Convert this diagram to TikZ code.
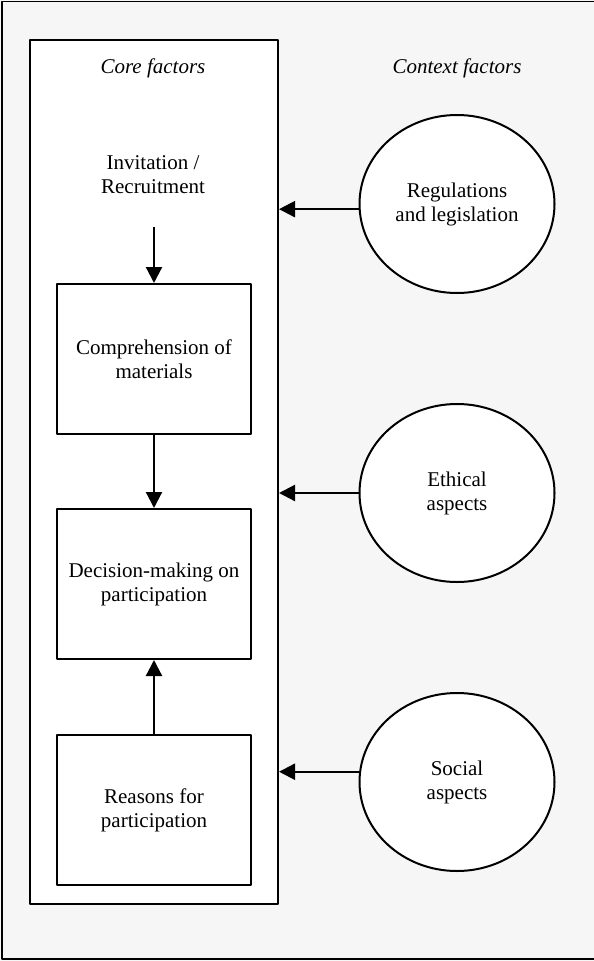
\documentclass[tikz,border=0pt]{standalone}
\usepackage{fontspec}
\setmainfont{Liberation Serif}
\usetikzlibrary{arrows.meta,shapes.geometric}
\definecolor{bggray}{HTML}{F6F6F6}
\tikzset{
  every picture/.style={line join=round, line cap=butt},
  stepbox/.style={draw, line width=2pt, fill=white, minimum width=194pt, minimum height=150pt, inner sep=0pt, align=center},
  ctxfactor/.style={ellipse, draw, line width=2pt, fill=white, minimum width=195pt, minimum height=178pt, inner sep=0pt, align=center},
  link/.style={line width=2.2pt, -{Triangle[length=16pt,width=16pt]}},
}
\begin{document}
\begin{tikzpicture}[x=1pt,y=-1pt,font=\fontsize{21}{24}\selectfont]
\useasboundingbox (0,0) rectangle (594,961);
\fill[bggray](0,0) rectangle (594,961);
\draw[line width=1.8pt](594,1.5)--(2,1.5)--(2,959)--(594,959);
% core frame
\node[draw, line width=2pt, fill=white, minimum width=248pt, minimum height=864pt, inner sep=0pt] (core) at (154,472) {};
\node (corelbl) at (153,68) {\itshape Core factors};
\node (ctxlbl) at (457,68) {\itshape Context factors};
% core steps
\node[align=center] (invite) at (153,175) {Invitation /\\Recruitment};
\coordinate (invtail) at (154,227);
\node[stepbox] (compr) at (154,359) {Comprehension of\\materials};
\node[stepbox] (decide) at (154,584) {Decision-making on\\participation};
\node[stepbox] (reasons) at (154,810) {Reasons for\\participation};
\draw[link](invtail)--(compr.north);
\draw[link](compr.south)--(decide.north);
\draw[link](reasons.north)--(decide.south);
% context
\node[ctxfactor] (regul) at (457,204) {Regulations\\and legislation};
\node[ctxfactor] (ethic) at (457,493) {Ethical\\aspects};
\node[ctxfactor] (social) at (457,782) {Social\\aspects};
\draw[link](regul.183)--(regul.183 -| core.east);
\draw[link](ethic.west)--(ethic.west -| core.east);
\draw[link](social.174)--(social.174 -| core.east);
\end{tikzpicture}
\end{document}
